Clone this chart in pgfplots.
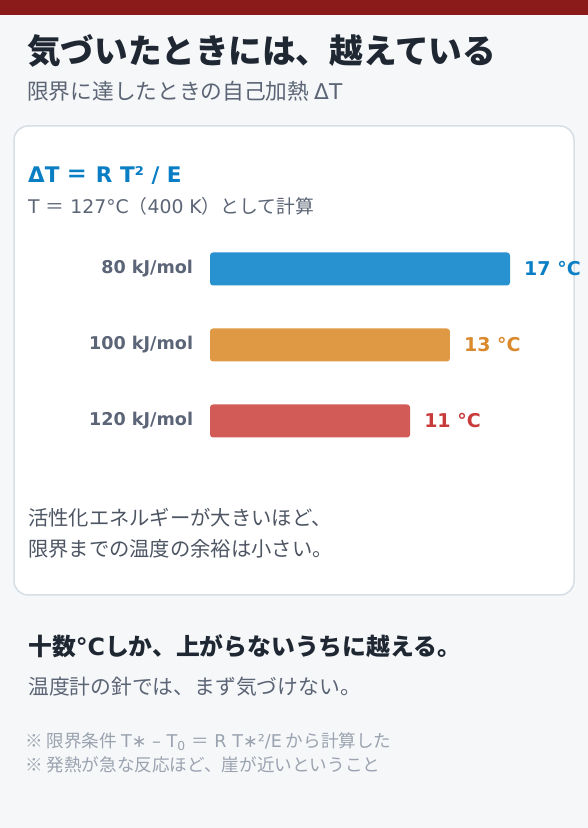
\documentclass[border=0pt]{standalone}
\usepackage{fontspec}
\usepackage{pgfplots}
\pgfplotsset{compat=1.18}
\setmainfont{Noto Sans CJK JP}
\newfontfamily\dv{DejaVu Sans}
\newfontfamily\lt{DejaVu Sans}
\definecolor{bgc}{HTML}{F6F7F9}
\definecolor{topbar}{HTML}{8B1A1A}
\definecolor{titlec}{HTML}{1E2732}
\definecolor{subc}{HTML}{5B6575}
\definecolor{cardb}{HTML}{D6DEE6}
\definecolor{formc}{HTML}{0A7EC4}
\definecolor{lblc}{HTML}{5B6577}
\definecolor{barb}{HTML}{2891D0}
\definecolor{baro}{HTML}{DF9944}
\definecolor{barr}{HTML}{D35B57}
\definecolor{txtb}{HTML}{0B7FC5}
\definecolor{txto}{HTML}{DA8A2C}
\definecolor{txtr}{HTML}{C93B3B}
\definecolor{bodyc}{HTML}{4D5563}
\definecolor{footc}{HTML}{9AA3AF}
\begin{document}
\begin{tikzpicture}[x=1pt,y=1pt]
\useasboundingbox (0,0) rectangle (588,828);
\fill[bgc] (0,0) rectangle (588,828);
\fill[topbar] (0,813) rectangle (588,828);
\draw[rounded corners=14pt, fill=white, draw=cardb, line width=1.5pt] (14,702) rectangle (574,233);
\node[anchor=west, inner sep=0pt, text=titlec, font=\fontsize{33.6}{36}\selectfont\bfseries] at (27,777.5) {気づいたときには、越えている};
\node[anchor=west, inner sep=0pt, text=subc, font=\fontsize{21.7}{24}\selectfont] at (27,737) {限界に達したときの自己加熱 {\lt ΔT}};
\node[anchor=west, inner sep=0pt, text=formc, font=\fontsize{21.5}{24}\selectfont\bfseries] at (28,652.5) {{\lt ΔT }＝{\lt{} R T² / E}};
\node[anchor=west, inner sep=0pt, text=subc, font=\fontsize{18.8}{21}\selectfont] at (28,621.5) {{\lt T }＝{\lt{} 127°C}（{\lt 400 K}）として計算};
\begin{axis}[
  at={(210pt,369pt)}, anchor=south west,
  scale only axis, width=360.8pt, height=228pt,
  xbar, bar width=33pt, bar shift=0pt,
  xmin=0, xmax=20, ymin=-0.5, ymax=2.5, y dir=reverse,
  enlargelimits=false, clip=false,
  axis line style={draw=none}, tick style={draw=none},
  xtick=\empty, ytick={0,1,2},
  yticklabels={80 kJ/mol,100 kJ/mol,120 kJ/mol},
  yticklabel style={anchor=east, inner sep=0pt, xshift=-12.5pt, text=lblc, font=\fontsize{17.6}{20}\selectfont\bfseries\lt},
  point meta=x,
  nodes near coords={\pgfmathprintnumber[fixed,precision=0,assume math mode=true]{\pgfplotspointmeta} °C},
  nodes near coords align={horizontal},
]
\addplot[fill=barb, draw=none, rounded corners=3pt, every node near coord/.append style={anchor=west, inner sep=0pt, xshift=14pt, text=txtb, font=\fontsize{19}{22}\selectfont\bfseries\lt}] coordinates {(16.63,0)};
\addplot[fill=baro, draw=none, rounded corners=3pt, every node near coord/.append style={anchor=west, inner sep=0pt, xshift=14pt, text=txto, font=\fontsize{19}{22}\selectfont\bfseries\lt}] coordinates {(13.30,1)};
\addplot[fill=barr, draw=none, rounded corners=3pt, every node near coord/.append style={anchor=west, inner sep=0pt, xshift=14pt, text=txtr, font=\fontsize{19}{22}\selectfont\bfseries\lt}] coordinates {(11.09,2)};
\end{axis}
\node[anchor=west, inner sep=0pt, text=bodyc, font=\fontsize{20.3}{22}\selectfont] at (28,310.5) {活性化エネルギーが大きいほど、};
\node[anchor=west, inner sep=0pt, text=bodyc, font=\fontsize{20.3}{22}\selectfont] at (28,279) {限界までの温度の余裕は小さい。};
\node[anchor=west, inner sep=0pt, text=titlec, font=\fontsize{23.8}{26}\selectfont\bfseries] at (28,182) {十数{\lt °C}しか、上がらないうちに越える。};
\node[anchor=west, inner sep=0pt, text=subc, font=\fontsize{20.8}{23}\selectfont] at (28,141.5) {温度計の針では、まず気づけない。};
\node[anchor=west, inner sep=0pt, text=footc, font=\fontsize{17.6}{20}\selectfont] at (25,86.5) {※ 限界条件 {\lt T∗ – T\textsubscript{0} }＝{\lt{} R T∗²/E} から計算した};
\node[anchor=west, inner sep=0pt, text=footc, font=\fontsize{17.6}{20}\selectfont] at (25,63) {※ 発熱が急な反応ほど、崖が近いということ};
\end{tikzpicture}
\end{document}
